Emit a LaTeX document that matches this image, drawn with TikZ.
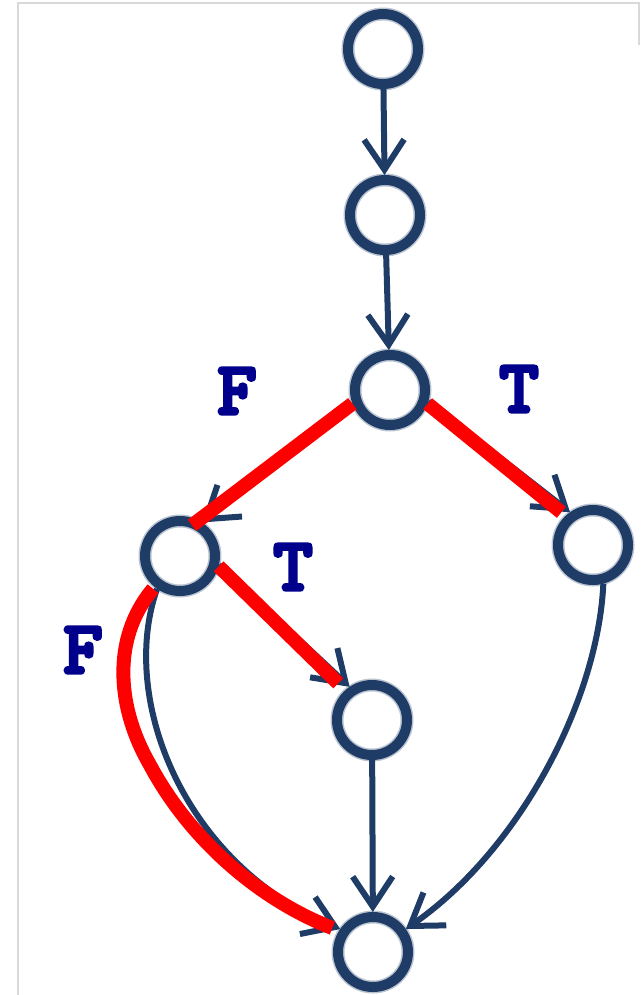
\documentclass[tikz,border=0pt]{standalone}
\usepackage{fontspec}
\usetikzlibrary{arrows.meta}
\definecolor{ringblue}{RGB}{30,60,102}
\definecolor{labelblue}{RGB}{0,0,140}
\newcommand{\heavy}[1]{\special{pdf:literal direct 2 Tr 3 w 1 j}#1\special{pdf:literal direct 0 Tr}}
\begin{document}
\begin{tikzpicture}[x=1pt,y=-1pt,
    ring/.style={circle,minimum size=70pt,inner sep=0pt,draw=ringblue,line width=10pt,
                 preaction={draw=ringblue!30,line width=13pt}},
    flow/.style={draw=ringblue,line width=6pt,-{Straight Barb[length=30pt,width=40pt,line width=6pt]}},
    taken/.style={draw=red,line width=14pt},
    branch/.style={text=labelblue,font=\ttfamily\bfseries\fontsize{76}{76}\selectfont,inner sep=0pt}]
    \useasboundingbox (0,0) rectangle (641,995);
    \draw[gray!30,line width=2pt] (18,995) -- (18,3) -- (639,3) -- (639,45);
    % nodes
    \node[ring] (n1) at (383,49) {};
    \node[ring] (n2) at (385,215) {};
    \node[ring] (n3) at (390,390) {};
    \node[ring] (n4) at (180,556) {};
    \node[ring] (n5) at (593,545) {};
    \node[ring] (n6) at (372,720) {};
    \node[ring] (n7) at (373,952) {};
    % edges
    \draw[flow] (n1) -- (n2);
    \draw[flow] (n2) -- (n3);
    \draw[flow] (n3.202) -- (n4.57);
    \draw[flow] (n3.343) -- (n5.125);
    \draw[flow] (n4.347) -- (n6.124);
    \draw[flow] (n4.235) .. controls (118,700) and (185,865) .. (n7.145);
    \draw[flow] (n6) -- (n7);
    \draw[flow] (n5.285) .. controls (598,700) and (520,850) .. (n7.35);
    % taken branches
    \draw[taken] (n3.200) -- ([xshift=-8pt,yshift=-4pt]n4.60);
    \draw[taken] (n3.340) -- ([xshift=-6pt,yshift=2pt]n5.130);
    \draw[taken] (n4.345) -- ([xshift=-8pt,yshift=6pt]n6.130);
    \draw[taken] ([xshift=-4pt]n4.235) .. controls (110,640) and (118,710) .. (150,765)
        .. controls (190,840) and (260,900) .. ([xshift=-6pt,yshift=4pt]n7.150);
    % labels
    \node[branch] (f1) at (237,391) {\heavy{F}};
    \node[branch] (t1) at (519,389) {\heavy{T}};
    \node[branch] (t2) at (293,567) {\heavy{T}};
    \node[branch] (f2) at (83,650) {\heavy{F}};
\end{tikzpicture}
\end{document}
